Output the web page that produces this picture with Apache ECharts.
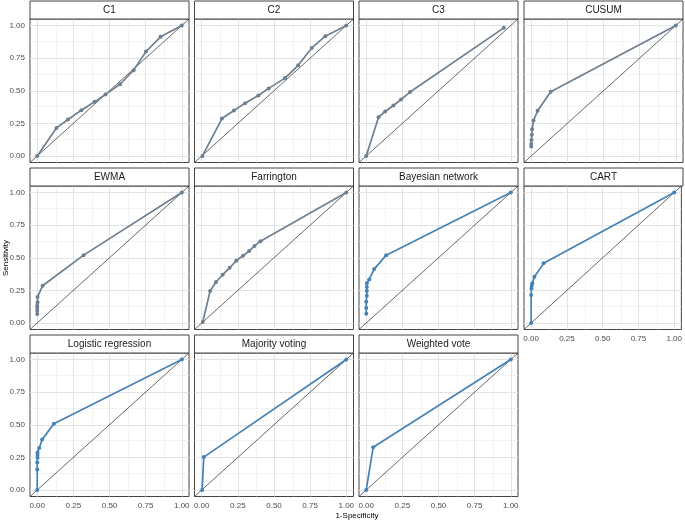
<!DOCTYPE html>
<html><head><meta charset="utf-8">
<script src="https://cdn.jsdelivr.net/npm/echarts@6/dist/echarts.min.js"></script>
<style>html,body{margin:0;padding:0;background:#fff}#c{width:685px;height:522px}</style>
</head><body><div id="c"></div>
<script>
// ---- data ----
const panelNames = ['C1','C2','C3','CUSUM','EWMA','Farrington','Bayesian network','CART','Logistic regression','Majority voting','Weighted vote'];
const methodGroup = ['classic','classic','classic','classic','classic','classic','ml','ml','ml','ml','ml'];

const fprC1 = [0, 0.133, 0.213, 0.305, 0.397, 0.472, 0.573, 0.667, 0.752, 0.853, 1];
const tprC1 = [0, 0.215, 0.280, 0.350, 0.415, 0.472, 0.550, 0.657, 0.800, 0.913, 1];
const fprC2 = [0.005, 0.140, 0.223, 0.300, 0.392, 0.463, 0.576, 0.667, 0.761, 0.855, 1];
const tprC2 = [0, 0.287, 0.349, 0.405, 0.464, 0.518, 0.597, 0.695, 0.828, 0.918, 1];
const fprC3 = [0, 0.085, 0.131, 0.188, 0.241, 0.303, 0.952];
const tprC3 = [0, 0.297, 0.341, 0.387, 0.433, 0.490, 0.982];
const fprCUSUM = [0, 0, 0.002, 0.004, 0.006, 0.016, 0.044, 0.135, 1];
const tprCUSUM = [0.072, 0.092, 0.123, 0.162, 0.205, 0.272, 0.346, 0.492, 1];
const fprEWMA = [0, 0, 0, 0, 0.002, 0.002, 0.037, 0.321, 1];
const tprEWMA = [0.069, 0.094, 0.115, 0.132, 0.158, 0.200, 0.285, 0.520, 1];
const fprFarrington = [0.007, 0.058, 0.099, 0.145, 0.193, 0.239, 0.285, 0.328, 0.365, 0.406, 1];
const tprFarrington = [0.008, 0.245, 0.314, 0.370, 0.423, 0.477, 0.515, 0.551, 0.591, 0.627, 1];
const fprBayes = [0, 0, 0, 0.004, 0.004, 0.004, 0.004, 0.021, 0.055, 0.138, 1];
const tprBayes = [0.071, 0.115, 0.163, 0.209, 0.245, 0.275, 0.304, 0.334, 0.413, 0.520, 1];
const fprCART = [0, 0, 0.002, 0.004, 0.008, 0.023, 0.087, 1];
const tprCART = [0, 0.214, 0.265, 0.286, 0.304, 0.354, 0.457, 1];
const fprLogit = [0, 0, 0, 0.002, 0.002, 0.002, 0.014, 0.034, 0.115, 1];
const tprLogit = [0, 0.157, 0.211, 0.247, 0.268, 0.288, 0.321, 0.386, 0.507, 1];
const fprMajority = [0.003, 0.014, 1];
const tprMajority = [0, 0.252, 1];
const fprWeighted = [0, 0.048, 1];
const tprWeighted = [0, 0.327, 1];

const fprAll = [fprC1, fprC2, fprC3, fprCUSUM, fprEWMA, fprFarrington, fprBayes, fprCART, fprLogit, fprMajority, fprWeighted];
const tprAll = [tprC1, tprC2, tprC3, tprCUSUM, tprEWMA, tprFarrington, tprBayes, tprCART, tprLogit, tprMajority, tprWeighted];

const majorTicks = [0, 0.25, 0.5, 0.75, 1];
const minorTicks = [0.125, 0.375, 0.625, 0.875];
const tickLabels = ['0.00', '0.25', '0.50', '0.75', '1.00'];
const axisMin = -0.05, axisMax = 1.05;
const xTitle = '1-Specificity', yTitle = 'Sensitivity';

// ---- layout / style ----
const colLeft = [30, 194.5, 359, 524];
const rowTop = [19, 186, 353];
const pw = 159, ph = 143.5, stripH = 18;
const colors = { classic: '#6e7f8f', ml: '#4682b4' };
const font = '"Liberation Sans", Arial, sans-serif';

const grids = [], xAxes = [], yAxes = [], series = [], graphics = [];
panelNames.forEach((name, i) => {
  const col = i % 4, row = Math.floor(i / 4);
  const left = colLeft[col], top = rowTop[row];
  const showX = row === 2 || i === 7;
  const showY = col === 0;
  grids.push({ left: left, top: top, width: pw, height: ph, show: true, borderColor: '#444', borderWidth: 1, backgroundColor: '#fff', z: 0 });
  const lbl = (show) => ({ show: show, customValues: majorTicks, formatter: v => tickLabels[majorTicks.indexOf(Math.round(v * 100) / 100)] ?? v.toFixed(2), fontSize: 8, color: '#4d4d4d', fontFamily: font, margin: 5 });
  const tick = (show) => ({ show: show, customValues: majorTicks, length: 3, lineStyle: { color: '#444', width: 1 } });
  xAxes.push({ gridIndex: i, type: 'value', min: axisMin, max: axisMax, splitLine: { show: false }, axisLine: { show: false }, axisTick: tick(showX), axisLabel: lbl(showX) });
  yAxes.push({ gridIndex: i, type: 'value', min: axisMin, max: axisMax, splitLine: { show: false }, axisLine: { show: false }, axisTick: tick(showY), axisLabel: lbl(showY) });

  const gl = [];
  majorTicks.forEach(v => { gl.push({ xAxis: v, lineStyle: { color: '#e3e3e3', width: 1, type: 'solid' } }); gl.push({ yAxis: v, lineStyle: { color: '#e3e3e3', width: 1, type: 'solid' } }); });
  minorTicks.forEach(v => { gl.push({ xAxis: v, lineStyle: { color: '#eeeeee', width: 0.7, type: 'solid' } }); gl.push({ yAxis: v, lineStyle: { color: '#eeeeee', width: 0.7, type: 'solid' } }); });
  series.push({
    type: 'line', xAxisIndex: i, yAxisIndex: i, z: 1, silent: true, showSymbol: false, symbol: 'none',
    data: [[axisMin, axisMin]], lineStyle: { opacity: 0 },
    markLine: { z: 1, silent: true, symbol: 'none', label: { show: false }, animation: false, data: gl }
  });
  series.push({
    type: 'line', xAxisIndex: i, yAxisIndex: i, z: 2, silent: true, symbol: 'none',
    data: [[axisMin, axisMin], [axisMax, axisMax]], lineStyle: { color: '#000', width: 0.6 }
  });
  const c = colors[methodGroup[i]];
  series.push({
    type: 'line', xAxisIndex: i, yAxisIndex: i, z: 3, name: name,
    data: fprAll[i].map((x, k) => [x, tprAll[i][k]]),
    symbol: 'circle', symbolSize: 4, showSymbol: true,
    itemStyle: { color: c }, lineStyle: { color: c, width: 1.7 }
  });

  graphics.push({ type: 'rect', shape: { x: left, y: top - stripH, width: pw, height: stripH }, style: { fill: '#fff', stroke: '#444', lineWidth: 1 }, z: 10 });
  graphics.push({ type: 'text', x: left + pw / 2, y: top - stripH / 2, style: { text: name, fill: '#1a1a1a', font: '10px ' + font, align: 'center', verticalAlign: 'middle' }, z: 11 });
});
graphics.push({ type: 'text', x: 357, y: 516, style: { text: xTitle, fill: '#000', font: '8px ' + font, align: 'center', verticalAlign: 'middle' } });
graphics.push({ type: 'text', x: 6, y: 258, rotation: Math.PI / 2, style: { text: yTitle, fill: '#000', font: '8px ' + font, align: 'center', verticalAlign: 'middle' } });

const chart = echarts.init(document.getElementById('c'), null, { renderer: 'canvas' });
chart.setOption({
  animation: false,
  backgroundColor: '#fff',
  grid: grids, xAxis: xAxes, yAxis: yAxes, series: series, graphic: graphics
});
</script></body></html>
